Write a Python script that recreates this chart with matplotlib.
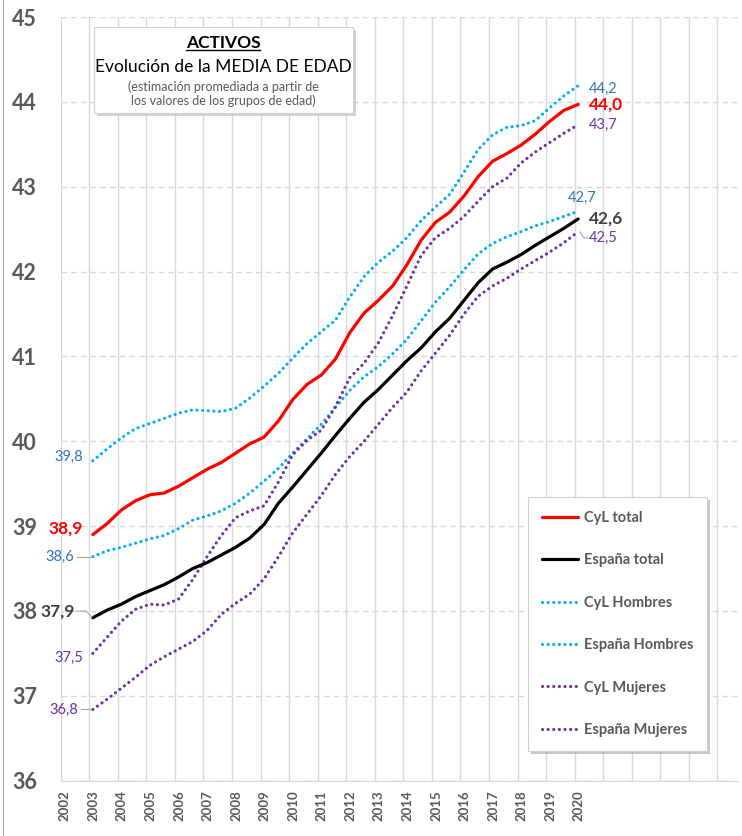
import matplotlib
matplotlib.use("Agg")
import matplotlib.pyplot as plt
import matplotlib.transforms as mtransforms
from matplotlib.patches import Rectangle
from matplotlib.lines import Line2D

plt.rcParams['font.family'] = ['Lato', 'DejaVu Sans']

# semestres (I = 1er trimestre, II = 3er trimestre)
periodos = ["2003-I", "2003-II", "2004-I", "2004-II", "2005-I", "2005-II",
            "2006-I", "2006-II", "2007-I", "2007-II", "2008-I", "2008-II",
            "2009-I", "2009-II", "2010-I", "2010-II", "2011-I", "2011-II",
            "2012-I", "2012-II", "2013-I", "2013-II", "2014-I", "2014-II",
            "2015-I", "2015-II", "2016-I", "2016-II", "2017-I", "2017-II",
            "2018-I", "2018-II", "2019-I", "2019-II", "2020-I"]

cyl_total = [38.90, 39.03, 39.19, 39.30, 39.37, 39.39, 39.47, 39.57, 39.67, 39.75,
             39.86, 39.97, 40.05, 40.24, 40.49, 40.67, 40.78, 40.97, 41.28, 41.51,
             41.66, 41.83, 42.08, 42.37, 42.58, 42.70, 42.89, 43.12, 43.30, 43.39,
             43.49, 43.62, 43.77, 43.90, 43.97]
esp_total = [37.92, 38.01, 38.08, 38.17, 38.24, 38.31, 38.40, 38.50, 38.57, 38.66,
             38.75, 38.86, 39.02, 39.27, 39.46, 39.66, 39.86, 40.07, 40.27, 40.46,
             40.61, 40.78, 40.95, 41.10, 41.29, 41.45, 41.66, 41.87, 42.03, 42.11,
             42.20, 42.31, 42.41, 42.51, 42.62]
cyl_hombres = [39.77, 39.91, 40.04, 40.15, 40.21, 40.27, 40.33, 40.37, 40.36, 40.35,
               40.39, 40.51, 40.65, 40.80, 40.98, 41.15, 41.29, 41.43, 41.70, 41.94,
               42.11, 42.24, 42.40, 42.60, 42.76, 42.91, 43.17, 43.44, 43.61, 43.70,
               43.72, 43.78, 43.93, 44.07, 44.19]
esp_hombres = [38.64, 38.71, 38.75, 38.80, 38.85, 38.89, 38.97, 39.07, 39.12, 39.18,
               39.27, 39.39, 39.53, 39.68, 39.86, 40.03, 40.20, 40.40, 40.60, 40.76,
               40.88, 41.03, 41.20, 41.42, 41.64, 41.82, 42.02, 42.21, 42.33, 42.41,
               42.47, 42.54, 42.59, 42.65, 42.71]
cyl_mujeres = [37.50, 37.69, 37.88, 38.02, 38.08, 38.07, 38.14, 38.37, 38.64, 38.89,
               39.10, 39.18, 39.24, 39.52, 39.84, 40.01, 40.13, 40.41, 40.75, 40.92,
               41.16, 41.48, 41.83, 42.19, 42.40, 42.51, 42.65, 42.83, 43.00, 43.10,
               43.28, 43.41, 43.52, 43.63, 43.73]
esp_mujeres = [36.84, 36.96, 37.09, 37.22, 37.36, 37.46, 37.55, 37.64, 37.77, 37.96,
               38.09, 38.20, 38.38, 38.64, 38.92, 39.14, 39.36, 39.61, 39.82, 40.00,
               40.20, 40.40, 40.58, 40.83, 41.04, 41.25, 41.50, 41.71, 41.83, 41.92,
               42.03, 42.13, 42.23, 42.34, 42.47]

anios = list(range(2002, 2021))

RED = "#FF0000"
BLUE = "#00B0F0"
PURPLE = "#7030A0"
BLUE_TXT = "#2E75B6"
GREY_TXT = "#595959"
GRID = "#D9D9D9"


def posicion(p):
    anio, sem = p.split("-")
    return int(anio) + (0.125 if sem == "I" else 0.625)


x = [posicion(p) for p in periodos]

W, H = 742, 836
fig = plt.figure(figsize=(W / 100, H / 100), dpi=100)
ax = fig.add_axes([60.7 / W, 1 - 780.7 / H, (738 - 60.7) / W, (780.7 - 17) / H])

dots = (0, (0.01, 1.75))
series = [
    ("CyL total", cyl_total, RED, "-"),
    ("España total", esp_total, "black", "-"),
    ("CyL Hombres", cyl_hombres, BLUE, dots),
    ("España Hombres", esp_hombres, BLUE, dots),
    ("CyL Mujeres", cyl_mujeres, PURPLE, dots),
    ("España Mujeres", esp_mujeres, PURPLE, dots),
]
handles = []
for name, vals, col, ls in series:
    if ls == "-":
        h, = ax.plot(x, vals, color=col, lw=2.3, ls=ls, label=name, zorder=4,
                     solid_capstyle="round")
    else:
        h, = ax.plot(x, vals, color=col, lw=2.3, ls=ls, label=name, zorder=3,
                     dash_capstyle="round")
    handles.append(h)

ax.set_ylim(36, 45)
ax.set_xlim(2002, 2002 + (738 - 60.7) / 28.55)
ax.set_yticks(range(36, 46))
ax.set_xticks(range(2002, 2026))
ax.set_xticklabels([str(a) if a in anios else "" for a in range(2002, 2026)],
                   rotation=90, fontsize=9.5, fontweight="bold", color=GREY_TXT)
ax.set_yticklabels([str(v) for v in range(36, 46)], fontsize=15.5,
                   fontweight="bold", color=GREY_TXT)
ax.tick_params(axis="both", length=0)
ax.tick_params(axis="y", pad=17)
ax.tick_params(axis="x", pad=7)
off = mtransforms.ScaledTranslation(3 / 72, 0, fig.dpi_scale_trans)
for lab in ax.get_xticklabels():
    lab.set_transform(lab.get_transform() + off)

ax.xaxis.grid(True, color=GRID, lw=1, ls="-")
ax.yaxis.grid(True, color=GRID, lw=1, ls=(0, (4, 3)))
ax.set_axisbelow(True)
for s in ["left", "right", "top"]:
    ax.spines[s].set_visible(False)
ax.spines["bottom"].set_color(GRID)

# etiquetas de inicio y final
PX = 0.72
def etiqueta(x0, v, dx, dy, col, bold=False, size=10.5, ha="left"):
    ax.annotate(f"{v:.1f}".replace(".", ","), xy=(x0, v), xytext=(dx * PX, dy * PX),
                textcoords="offset points", ha=ha, va="center", color=col,
                fontsize=size, fontweight="bold" if bold else "normal",
                annotation_clip=False)

x0, x1 = x[0], x[-1]
etiqueta(x0, cyl_hombres[0], -10, 4, BLUE_TXT, ha="right")
etiqueta(x0, cyl_total[0], -10, 6, RED, bold=True, size=12.5, ha="right")
etiqueta(x0, esp_hombres[0], -19, 0, BLUE_TXT, ha="right")
etiqueta(x0, esp_total[0], -18, 6, "#404040", bold=True, size=12.5, ha="right")
etiqueta(x0, cyl_mujeres[0], -10, -4, PURPLE, ha="right")
etiqueta(x0, esp_mujeres[0], -15, 0, PURPLE, ha="right")

etiqueta(x1, cyl_hombres[-1], 11, -3, BLUE_TXT)
etiqueta(x1, cyl_total[-1], 11, 0, RED, bold=True, size=12.5)
etiqueta(x1, cyl_mujeres[-1], 11, 0, PURPLE)
etiqueta(x1, esp_hombres[-1], -10, 13, BLUE_TXT)
etiqueta(x1, esp_total[-1], 11, 0, "#404040", bold=True, size=12.5)
etiqueta(x1, esp_mujeres[-1], 11, -6, PURPLE)

# lineas guia de etiquetas (en pixeles de la figura)
def px_line(xs, ys):
    fig.add_artist(Line2D([v / W for v in xs], [1 - v / H for v in ys],
                          color="#A6A6A6", lw=0.8))

px_line([77, 90], [556.5, 556.5])
px_line([77, 86, 92], [611, 611, 617])
px_line([81, 91], [708.5, 708.5])
px_line([580, 584, 588], [232, 238, 238])

# cuadro de titulo
def caja(x0p, y0p, x1p, y1p):
    fig.add_artist(Rectangle((x0p / W + 3 / W, 1 - y1p / H - 3 / H),
                             (x1p - x0p) / W, (y1p - y0p) / H,
                             facecolor="#BFBFBF", edgecolor="none", alpha=0.7))
    fig.add_artist(Rectangle((x0p / W, 1 - y1p / H), (x1p - x0p) / W,
                             (y1p - y0p) / H, facecolor="white",
                             edgecolor="#D0D0D0", lw=0.8))

caja(94, 27, 353, 113)
t_act = fig.text(223 / W, 1 - 43 / H, "ACTIVOS", ha="center", va="center",
                 fontsize=12.5, fontweight="bold", color="black")
fig.text(223 / W, 1 - 67 / H, "Evolución de la MEDIA DE EDAD", ha="center",
         va="center", fontsize=12.5, color="black")
fig.text(223 / W, 1 - 87 / H, "(estimación promediada a partir de", ha="center",
         va="center", fontsize=9, color=GREY_TXT)
fig.text(223 / W, 1 - 101 / H, "los valores de los grupos de edad)", ha="center",
         va="center", fontsize=9, color=GREY_TXT)

fig.canvas.draw()
bb = t_act.get_window_extent()
fig.add_artist(Line2D([bb.x0 / W, bb.x1 / W], [(bb.y0 + 1) / H, (bb.y0 + 1) / H],
                      color="black", lw=1))

# borde izquierdo del area del grafico
px_line([3, 3], [0, 836])

leg = ax.legend(handles=handles, loc="upper left",
                bbox_to_anchor=(0.69, 0.3715, 0.264, 0), mode="expand",
                borderaxespad=0, prop={"weight": "bold", "size": 10.5},
                labelcolor=GREY_TXT, handlelength=2.5, handletextpad=0.4,
                labelspacing=1.95, borderpad=0.95, fancybox=False,
                framealpha=1, edgecolor="#D0D0D0",
                shadow={"facecolor": "#A0A0A0", "edgecolor": "none", "alpha": 0.6})
leg.get_frame().set_linewidth(0.8)
leg.set_zorder(6)

fig.savefig("out.png", dpi=100)
